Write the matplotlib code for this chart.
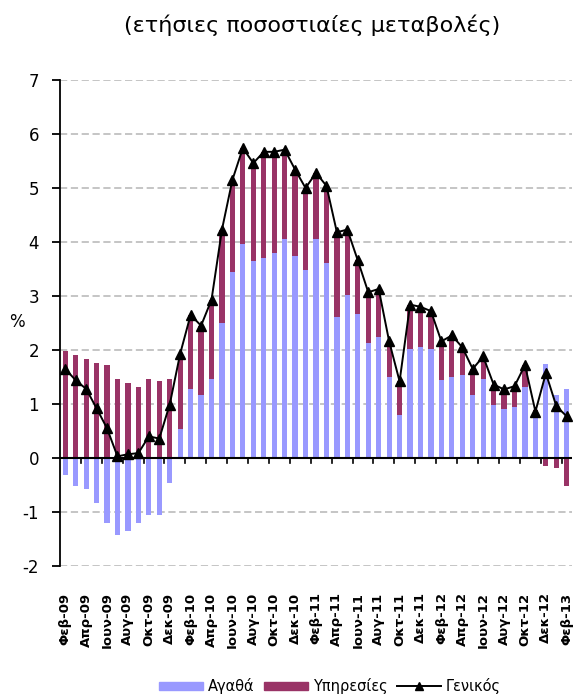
import numpy as np
import matplotlib
matplotlib.use("Agg")
import matplotlib.pyplot as plt
from matplotlib.lines import Line2D
from matplotlib.patches import Patch

plt.rcParams['font.family'] = ['DejaVu Sans']
plt.rcParams['axes.unicode_minus'] = False

# μήνες Φεβ-09 ... Φεβ-13
months = ["Φεβ", "Μαρ", "Απρ", "Μαϊ", "Ιουν", "Ιουλ", "Αυγ", "Σεπ", "Οκτ", "Νοε", "Δεκ", "Ιαν"]
labels = []
for i in range(49):
    y = 9 + (1 + i) // 12
    labels.append("%s-%02d" % (months[i % 12], y))

# συμβολή αγαθών
goods = [-0.32, -0.51, -0.58, -0.84, -1.21, -1.43, -1.36, -1.21, -1.06, -1.06,
         -0.46, 0.54, 1.27, 1.17, 1.46, 2.50, 3.45, 3.96, 3.64, 3.71,
         3.79, 4.05, 3.75, 3.49, 4.05, 3.61, 2.62, 3.01, 2.66, 2.13,
         2.24, 1.50, 0.80, 2.02, 2.05, 2.02, 1.44, 1.50, 1.54, 1.17,
         1.46, 0.98, 0.90, 0.94, 1.31, 0.80, 1.75, 1.17, 1.28]
# συμβολή υπηρεσιών
services = [1.98, 1.91, 1.83, 1.76, 1.73, 1.46, 1.39, 1.31, 1.46, 1.43,
            1.46, 1.40, 1.38, 1.28, 1.47, 1.73, 1.70, 1.78, 1.82, 1.96,
            1.88, 1.66, 1.59, 1.51, 1.23, 1.43, 1.56, 1.22, 1.00, 0.94,
            0.89, 0.66, 0.62, 0.82, 0.75, 0.70, 0.72, 0.77, 0.51, 0.48,
            0.42, 0.38, 0.37, 0.39, 0.41, 0.08, -0.15, -0.19, -0.52]
# γενικός δείκτης
general = [1.65, 1.44, 1.28, 0.92, 0.55, 0.03, 0.07, 0.09, 0.40, 0.36,
           0.99, 1.93, 2.65, 2.45, 2.93, 4.23, 5.15, 5.74, 5.46, 5.67,
           5.67, 5.71, 5.34, 5.00, 5.28, 5.04, 4.18, 4.23, 3.66, 3.07,
           3.13, 2.16, 1.42, 2.84, 2.80, 2.72, 2.16, 2.27, 2.05, 1.65,
           1.88, 1.36, 1.27, 1.33, 1.72, 0.86, 1.57, 0.96, 0.77]

goods = np.array(goods)
services = np.array(services)
x = np.arange(len(goods))

# θετικά και αρνητικά στοιβάζονται χωριστά (όπως στο Excel)
pos_base = np.where(goods > 0, goods, 0)
neg_base = np.where(goods < 0, goods, 0)
serv_base = np.where(services >= 0, pos_base, neg_base)

fig = plt.figure(figsize=(5.76, 6.97), dpi=100)
ax = fig.add_axes([60 / 576, 1 - 566 / 697, 512 / 576, 486 / 697])

blue = "#9999FF"
maroon = "#993366"

ax.bar(x, goods, width=0.5, color=blue, zorder=2)
ax.bar(x, services, width=0.5, bottom=serv_base, color=maroon, zorder=2)
ax.plot(x, general, color="black", lw=1.4, marker="^", ms=7, zorder=4)

ax.set_xlim(-0.5, 48.5)
ax.set_ylim(-2, 7)
ax.set_yticks(range(-2, 8))
ax.yaxis.grid(True, color="#c0c0c0", ls=(0, (4, 2)), lw=1.3, zorder=0)
ax.axhline(0, color="black", lw=1.5, zorder=3)

for s in ["top", "right", "bottom"]:
    ax.spines[s].set_visible(False)
ax.spines["left"].set_linewidth(1.3)
ax.tick_params(axis="y", length=6, width=1.3, pad=9, labelsize=12)

# σημάδια στον άξονα του μηδενός, ανά δύο μήνες
ax.set_xticks(np.arange(1.5, 48, 2))
ax.tick_params(axis="x", length=0, labelbottom=False)
for t in np.arange(1.5, 48, 2):
    ax.plot([t, t], [0, -0.09], color="black", lw=1.2, zorder=3, clip_on=False)

sec = ax.secondary_xaxis("bottom")
sec.set_xticks(x[::2])
sec.set_xticklabels(labels[::2], rotation=90, fontsize=9.5, fontweight="bold")
sec.tick_params(length=0, pad=19)
sec.spines["bottom"].set_visible(False)

fig.text(17 / 576, 1 - 322 / 697, "%", ha="center", va="center", fontsize=12)

fig.text(312 / 576, 1 - 25 / 697, "(ετήσιες ποσοστιαίες μεταβολές)",
         ha="center", va="center", fontsize=16)

handles = [Patch(color=blue), Patch(color=maroon),
           Line2D([], [], color="black", lw=1.4, marker="^", ms=6)]
fig.legend(handles, ["Αγαθά", "Υπηρεσίες", "Γενικός"], ncol=3,
           loc="center", bbox_to_anchor=(330 / 576, 0.016), frameon=False,
           fontsize=10.5, handlelength=3, handleheight=0.5,
           handletextpad=0.3, columnspacing=0.7, borderpad=0, borderaxespad=0)

fig.savefig("out.png", dpi=100)
